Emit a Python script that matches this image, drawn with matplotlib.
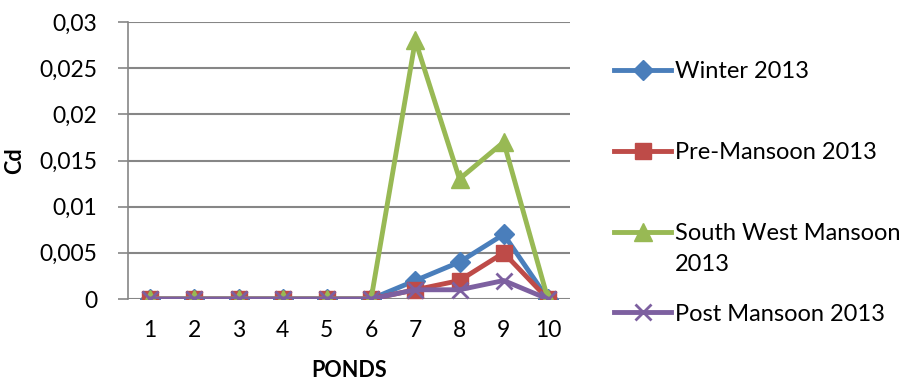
import matplotlib.pyplot as plt
from matplotlib.ticker import FuncFormatter

ponds = [1, 2, 3, 4, 5, 6, 7, 8, 9, 10]
winter = [0, 0, 0, 0, 0, 0, 0.002, 0.004, 0.007, 0]
pre_mansoon = [0, 0, 0, 0, 0, 0, 0.001, 0.002, 0.005, 0]
sw_mansoon = [0, 0, 0, 0, 0, 0, 0.028, 0.013, 0.017, 0]
post_mansoon = [0, 0, 0, 0, 0, 0, 0.001, 0.001, 0.002, 0]
yticks = [0, 0.005, 0.01, 0.015, 0.02, 0.025, 0.03]

plt.rcParams['font.family'] = ['Lato', 'DejaVu Sans']

fig = plt.figure(figsize=(9.03, 3.85), dpi=100)
ax = fig.add_axes([128 / 903, 1 - 299 / 385, 442 / 903, 277 / 385])

ax.plot(ponds, winter, color='#4a7ebb', lw=3.5, marker='D', ms=10, label='Winter 2013')
ax.plot(ponds, pre_mansoon, color='#be4b48', lw=3.5, marker='s', ms=11, label='Pre-Mansoon 2013')
ax.plot(ponds, sw_mansoon, color='#98b954', lw=3.5, marker='^', ms=13, label='South West Mansoon')
ax.plot(ponds, post_mansoon, color='#7d60a0', lw=3.5, marker='x', ms=11, mew=2, label='Post Mansoon 2013')

ax.set_xlim(0.5, 10.5)
ax.set_ylim(0, 0.03)
ax.set_xticks(ponds)
ax.set_yticks(yticks)
ax.yaxis.set_major_formatter(FuncFormatter(lambda v, p: ('%g' % round(v, 4)).replace('.', ',')))
ax.tick_params(axis='x', length=0, pad=15, labelsize=16.5)
ax.tick_params(axis='y', length=7, width=1.2, color='#868686', pad=15, labelsize=16.5)
ax.grid(axis='y', color='#868686', lw=1.5)
ax.set_axisbelow(True)
for s in ['top', 'right', 'bottom']:
    ax.spines[s].set_visible(False)
ax.spines['left'].set_color('#868686')
ax.spines['left'].set_linewidth(1.2)

ax.set_xlabel('PONDS', fontsize=15.5, fontweight='bold', labelpad=14)
ax.set_ylabel('Cd', fontsize=15.5, fontweight='bold')
ax.yaxis.set_label_coords(-103 / 442, 0.5)

leg = fig.legend(loc='upper left', bbox_to_anchor=(605 / 903, 1 - 52 / 385), frameon=False,
                 fontsize=17, labelspacing=2.53, handlelength=2.4, handletextpad=0.15,
                 borderaxespad=0)

fig.canvas.draw()
t = leg.get_texts()[2]
bb = t.get_window_extent()
fig.text(bb.x0 / 903, (bb.y0 - 31) / 385, '2013', fontsize=17, va='bottom', ha='left')

fig.savefig('out.png', dpi=100)
